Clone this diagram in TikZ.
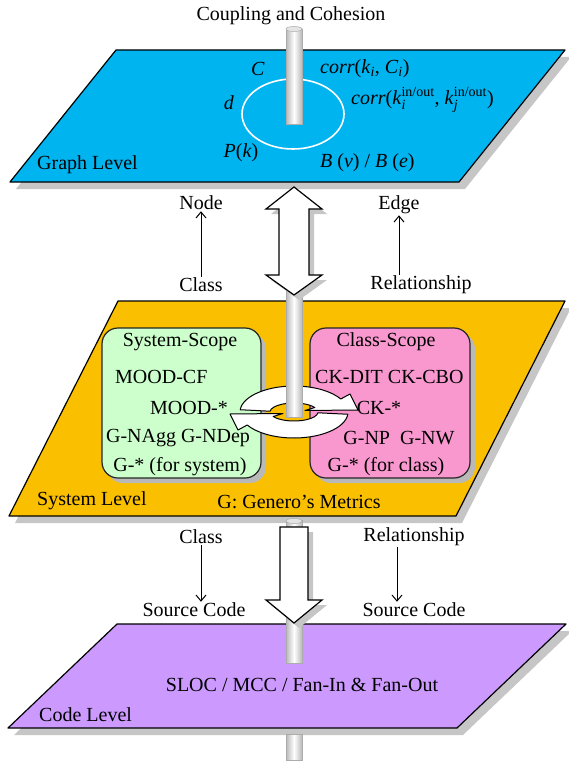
\documentclass[tikz,border=0pt]{standalone}
\usepackage{fontspec}
\usepackage{amsmath}
\setmainfont{Liberation Serif}
\usetikzlibrary{arrows.meta}

\definecolor{graphblue}{RGB}{0,180,240}
\definecolor{sysyellow}{RGB}{250,192,0}
\definecolor{scopegreen}{RGB}{204,255,204}
\definecolor{scopepink}{RGB}{248,152,206}
\definecolor{codepurple}{RGB}{204,153,255}

\tikzset{
  plane/.style={draw=black, line width=1.2pt, line join=round},
  planeshadow/.style={fill=gray!45, draw=none},
  pole/.style={left color=gray!55, right color=gray!55, middle color=white, draw=gray!65, line width=0.6pt},
  polecap/.style={fill=gray!20, draw=gray!65, line width=0.5pt},
  scopebox/.style={draw=black!85, line width=1.2pt, rounded corners=16pt},
  bigarrow/.style={draw=black, fill=white, line width=1.2pt, line join=miter},
  ringarrow/.style={draw=black, fill=white, line width=1pt, line join=round},
  thinarrow/.style={->, line width=1pt},
}

\begin{document}
\begin{tikzpicture}[x=1pt, y=-1pt, font=\fontsize{20}{24}\selectfont,
  every node/.style={inner sep=1pt}, >={Straight Barb[length=6pt,width=10pt]}]
\useasboundingbox (0,0) rectangle (569,762);

% graph level
\fill[planeshadow] (122,57) -- (571,57) -- (465,189) -- (16,189) -- cycle;
\draw[plane, fill=graphblue] (116,50) -- (565,50) -- (459,182) -- (10,182) -- cycle;
\draw[white, line width=1.6pt] (293,114) ellipse [x radius=51, y radius=35];
\draw[pole] (286,29) rectangle (302,124);
\draw[polecap] (294,29) ellipse [x radius=8, y radius=2.5];

\node (title) at (291,16) {Coupling and Cohesion};
\node (gc) at (258,69) {\textit{C}};
\node[anchor=west] (gcorr) at (319,69) {\textit{corr}(\textit{k}\textsubscript{\textit{i}}, \textit{C}\textsubscript{\textit{i}})};
\node (gd) at (229,103) {\textit{d}};
\node[anchor=west] (gcorrio) at (350,100) {\textit{corr}(\textit{k}$_{\textit{i}}^{\text{in/out}}$,\ \textit{k}$_{\textit{j}}^{\text{in/out}}$)};
\node (gp) at (241,153) {\textit{P}(\textit{k})};
\node[anchor=west] (gb) at (319,163) {\textit{B} (\textit{v}) / \textit{B} (\textit{e})};
\node[anchor=west] (glevel) at (36,165) {Graph Level};

% system level
\fill[planeshadow] (124,308) -- (571,308) -- (462,523) -- (15,523) -- cycle;
\draw[plane, fill=sysyellow] (118,301) -- (565,301) -- (456,516) -- (9,516) -- cycle;

\fill[gray!55, rounded corners=16pt] (107,333) rectangle (266,483);
\draw[scopebox, fill=scopegreen] (102,328) rectangle (261,478);
\fill[gray!55, rounded corners=16pt] (315,333) rectangle (475,483);
\draw[scopebox, fill=scopepink] (310,328) rectangle (470,478);

\node (syscope) at (180,342) {System-Scope};
\node[anchor=west] (moodcf) at (114,377) {MOOD-CF};
\node (mood) at (189,408) {MOOD-*};
\node (gnagg) at (178,438) {G-NAgg G-NDep};
\node (gsys) at (180,467) {G-* (for system)};
\node (clscope) at (386,342) {Class-Scope};
\node[anchor=west] (ckdit) at (314,377) {CK-DIT CK-CBO};
\node (ck) at (379,408) {CK-*};
\node (gnp) at (399,438) {G-NP\ \ G-NW};
\node (gcls) at (386,467) {G-* (for class)};
\node[anchor=west] (slevel) at (36,501) {System Level};
\node (genero) at (299,502) {G: Genero’s Metrics};

% ring of two arrows round the pole
\begin{scope}[shift={(294,412)}, y=1pt]
  \draw[ringarrow] (-5:54 and 26) arc[start angle=-5, end angle=-150, x radius=54, y radius=26]
    -- (-56,-18) -- (-64,-2) -- (-11,-1.5) -- (-150:24 and 9)
    arc[start angle=-150, end angle=-5, x radius=24, y radius=9] -- cycle;
  \draw[ringarrow] (175:54 and 26) arc[start angle=175, end angle=30, x radius=54, y radius=26]
    -- (56,18) -- (64,2) -- (11,1.5) -- (30:24 and 9)
    arc[start angle=30, end angle=175, x radius=24, y radius=9] -- cycle;
\end{scope}
\draw[pole] (286,285) rectangle (302,417);

% up arrow between the levels
\fill[gray!45, shift={(5,5)}] (294,187) -- (322,209) -- (309,209) -- (309,275) -- (322,275)
  -- (294,295) -- (266,275) -- (279,275) -- (279,209) -- (266,209) -- cycle;
\draw[bigarrow] (294,187) -- (322,209) -- (309,209) -- (309,275) -- (322,275)
  -- (294,295) -- (266,275) -- (279,275) -- (279,209) -- (266,209) -- cycle;

\node (gnode) at (201,203) {Node};
\node (gedge) at (399,205) {Edge};
\node (upcls) at (201,285) {Class};
\node (uprel) at (421,285) {Relationship};
\draw[thinarrow] (upcls) -- (gnode);
\draw[thinarrow] (uprel.north -| gedge) -- (gedge);

% code level
\fill[planeshadow] (123,631) -- (572,631) -- (463,735) -- (14,735) -- cycle;
\draw[plane, fill=codepurple] (117,624) -- (566,624) -- (457,728) -- (8,728) -- cycle;
\draw[pole] (286,520) rectangle (302,663);
\draw[polecap] (294,521) ellipse [x radius=8, y radius=2.5];
\draw[pole] (286,734) rectangle (302,760);

\fill[gray!45, shift={(5,5)}] (280,527) -- (308,527) -- (308,600) -- (322,600) -- (294,623)
  -- (266,600) -- (280,600) -- cycle;
\draw[bigarrow] (280,527) -- (308,527) -- (308,600) -- (322,600) -- (294,623)
  -- (266,600) -- (280,600) -- cycle;

\node (dncls) at (201,537) {Class};
\node (dnrel) at (414,537) {Relationship};
\node (srcl) at (194,610) {Source Code};
\node (srcr) at (414,610) {Source Code};
\draw[thinarrow] (dncls) -- (dncls |- srcl.north);
\draw[thinarrow] ([xshift=-17pt]dnrel.south) -- ([xshift=-17pt]dnrel.south |- srcr.north);

\node (sloc) at (302,685) {SLOC / MCC / Fan-In \& Fan-Out};
\node[anchor=west] (clevel) at (38,715) {Code Level};
\end{tikzpicture}
\end{document}
